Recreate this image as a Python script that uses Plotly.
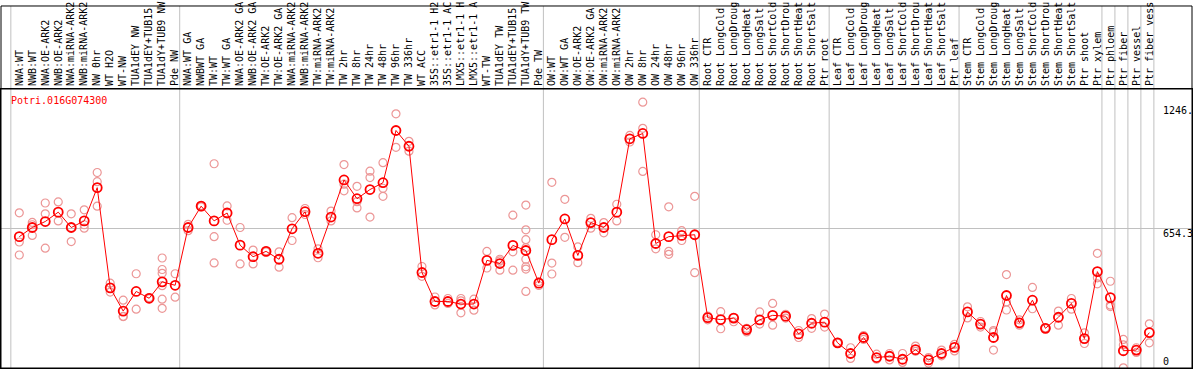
import plotly.graph_objects as go

# ---------------- data ----------------
title_text = "Potri.016G074300"

labels = [
    "NWA:WT", "NWB:WT", "NWA:OE-ARK2", "NWB:OE-ARK2", "NWA:miRNA-ARK2", "NWB:miRNA-ARK2",
    "NW 0hr", "WT H2O", "WT-NW", "TUA1dEY NW", "TUA1dEY+TUB15", "TUA1dY+TUB9 NW", "Pde NW",
    "NWA:WT GA", "NWBWT GA", "TW:WT", "TW:WT GA", "NWA:OE-ARK2 GA", "NWB:OE-ARK2 GA",
    "TW:OE-ARK2", "TW:OE-ARK2 GA", "NWA:miRNA-ARK2", "NWB:miRNA-ARK2", "TW:miRNA-ARK2",
    "TW:miRNA-ARK2", "TW 2hr", "TW 8hr", "TW 24hr", "TW 48hr", "TW 96hr", "TW 336hr",
    "WT ACC", "35S::etr1-1 H2", "35S::etr1-1 AC", "LMX5::etr1-1 H", "LMX5::etr1-1 A",
    "WT-TW", "TUA1dEY TW", "TUA1dEY+TUB15", "TUA1dY+TUB9 TW", "Pde TW",
    "OW:WT", "OW:WT GA", "OW:OE-ARK2", "OW:OE-ARK2 GA", "OW:miRNA-ARK2", "OW:miRNA-ARK2",
    "OW 2hr", "OW 8hr", "OW 24hr", "OW 48hr", "OW 96hr", "OW 336hr",
    "Root CTR", "Root LongCold", "Root LongDroug", "Root LongHeat", "Root LongSalt",
    "Root ShortCold", "Root ShortDrou", "Root ShortHeat", "Root ShortSalt", "Ptr root",
    "Leaf CTR", "Leaf LongCold", "Leaf LongDroug", "Leaf LongHeat", "Leaf LongSalt",
    "Leaf ShortCold", "Leaf ShortDrou", "Leaf ShortHeat", "Leaf ShortSalt", "Ptr leaf",
    "Stem CTR", "Stem LongCold", "Stem LongDroug", "Stem LongHeat", "Stem LongSalt",
    "Stem ShortCold", "Stem ShortDrou", "Stem ShortHeat", "Stem ShortSalt", "Ptr shoot",
    "Ptr xylem", "Ptr phloem", "Ptr fiber", "Ptr vessel", "Ptr fiber vess",
]

means = [
    616, 659, 687, 731, 659, 690, 846, 376, 267, 359, 327, 404, 388,
    659, 759, 690, 727, 576, 522, 547, 510, 653,
    733, 538, 708, 882, 794, 837, 869, 1114, 1040,
    448, 312, 312, 300, 300, 505, 490, 575, 551, 398,
    602, 699, 528, 682, 659, 731, 1075, 1100, 584, 616, 622, 625,
    236, 227, 234, 180, 226, 247, 243, 160, 210, 215,
    118, 68, 143, 49, 55, 41, 86, 38, 68, 97,
    263, 206, 143, 340, 212, 318, 186, 238, 303, 138,
    452, 330, 81, 84, 166,
]

replicates = [
    [728, 591, 530], [683, 672, 622], [774, 723, 562], [779, 690], [723, 593, 659],
    [742, 656, 672], [917, 874, 759], [398, 356], [318, 241, 242], [442, 276],
    [330, 325, 326], [516, 462, 444, 386, 323, 280], [442, 332],
    [674, 644], [762, 756], [958, 616, 493], [760, 693], [659, 488], [553, 488],
    [550, 544], [545, 473], [705, 598],
    [748, 720], [559, 517], [736, 690], [954, 831, 862], [852, 751, 780],
    [923, 893, 708], [963, 843, 805], [1192, 1035], [1063, 1017],
    [476, 430], [333, 296], [326, 303], [326, 259, 315], [323, 271], [547, 469],
    [502, 459, 510], [717, 545, 459], [764, 648, 602, 564, 510, 475, 464, 359], [387, 405],
    [871, 492, 441], [791, 613], [568, 494], [702, 656], [682, 634], [768, 690],
    [1091, 1060], [1247, 1124, 922], [625, 559], [756, 547, 533], [644, 598], [805, 447],
    [244, 226], [264, 184], [236, 217], [186, 169], [263, 206], [303, 201], [252, 234],
    [176, 143], [232, 186], [253, 192],
    [120, 116], [95, 45], [152, 134], [65, 41], [68, 38], [68, 26], [103, 78],
    [49, 23], [84, 57], [111, 80],
    [287, 235], [218, 192], [169, 176, 84], [438, 272, 310], [226, 201], [378, 278],
    [188, 184], [267, 201], [326, 276], [165, 115],
    [538, 395, 423], [407, 295, 288], [134, 1, 108], [95, 73], [207, 118],
]

# group boundaries (after sample number)
group_ends = [0, 13, 41, 53, 63, 73, 84, 85, 86, 87, 88]

y_tick_labels = ["1246.", "654.3", "0"]
y_mid = 654.3
y_max = 1308.6

# ---------------- build ----------------
W, H = 1194, 370
ML, MR, MT, MB = 1, 1, 85, 1
PW = W - ML - MR
PH = H - MT - MB
X0_PX, STEP_PX = 6.3, 13.0  # pixel of x=0 and pixel spacing per sample

xs = list(range(1, len(labels) + 1))
x_range = [(ML - X0_PX) / STEP_PX, (ML + PW - X0_PX) / STEP_PX]

rep_x, rep_y = [], []
for i, reps in zip(xs, replicates):
    for v in reps:
        rep_x.append(i)
        rep_y.append(v)

MONO = "DejaVu Sans Mono"

fig = go.Figure()
fig.add_trace(go.Scatter(
    x=rep_x, y=rep_y, mode="markers",
    marker=dict(symbol="circle-open", size=8, color="rgb(236,150,150)", line=dict(width=1.2)),
    hoverinfo="skip", showlegend=False,
))
fig.add_trace(go.Scatter(
    x=xs, y=means, mode="lines+markers",
    line=dict(color="#ff0000", width=1),
    marker=dict(symbol="circle-open", size=9, color="#ff0000", line=dict(width=1.8)),
    showlegend=False,
))

shapes = []
top_paper = 1 + (MT - 0.5) / PH
for g in group_ends:
    shapes.append(dict(type="line", xref="x", yref="paper", x0=g + 0.35, x1=g + 0.35,
                       y0=0, y1=top_paper, line=dict(color="#c0c0c0", width=1), layer="below"))
# outer frame incl. header
shapes.append(dict(type="rect", xref="paper", yref="paper", x0=0, x1=1, y0=0, y1=top_paper,
                   line=dict(color="black", width=1)))
shapes.append(dict(type="line", xref="paper", yref="paper", x0=0, x1=1, y0=1, y1=1,
                   line=dict(color="black", width=1)))


def py2paper(py):
    return (H - MB - py) / PH


annotations = [
    dict(text=title_text, xref="paper", yref="paper", x=(9 - ML) / PW, y=py2paper(97),
         xanchor="left", yanchor="middle", showarrow=False,
         font=dict(family=MONO, size=10, color="#ff0000")),
]
for txt, py in zip(y_tick_labels, [107, 232.5, 362]):
    annotations.append(dict(text=txt, xref="paper", yref="paper", x=(1162 - ML) / PW, y=py2paper(py),
                            xanchor="left", yanchor="middle", showarrow=False,
                            font=dict(family=MONO, size=10, color="black")))

fig.update_layout(
    width=W, height=H,
    margin=dict(l=ML, r=MR, t=MT, b=MB, pad=0),
    paper_bgcolor="white", plot_bgcolor="white",
    shapes=shapes, annotations=annotations,
    xaxis=dict(range=x_range, side="top", tickmode="array", tickvals=xs, ticktext=labels,
               tickangle=-90, tickfont=dict(family=MONO, size=10, color="black"),
               showgrid=False, zeroline=False, showline=True, mirror=True,
               linecolor="black", linewidth=1, ticks="", fixedrange=True),
    yaxis=dict(range=[0, y_max], tickmode="array", tickvals=[y_mid], showticklabels=False,
               showgrid=True, gridcolor="#c0c0c0", gridwidth=1, zeroline=False,
               showline=True, mirror=True, linecolor="black", linewidth=1, ticks="",
               fixedrange=True),
)

fig.write_html(
    "out.html",
    config={"displayModeBar": False},
    post_script="document.body.style.margin='0';document.body.style.overflow='hidden';",
)
